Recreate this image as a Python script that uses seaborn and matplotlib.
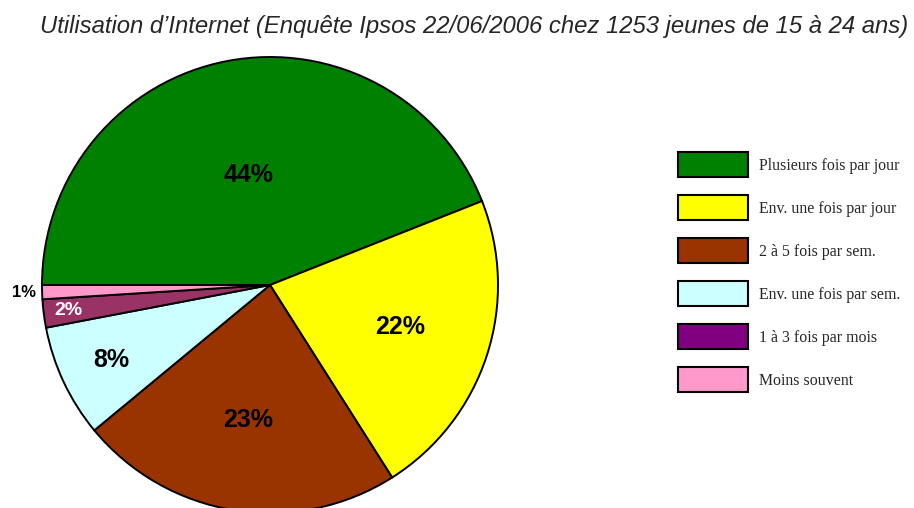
import numpy as np
import matplotlib.pyplot as plt
import matplotlib.patches as mpatches
import seaborn as sns

# --- données ---
categories = ['Plusieurs fois par jour', 'Env. une fois par jour', '2 à 5 fois par sem.',
              'Env. une fois par sem.', '1 à 3 fois par mois', 'Moins souvent']
values = [44, 22, 23, 8, 2, 1]
pie_colors = ['#008000', '#FFFF00', '#993300', '#CCFFFF', '#993366', '#FF99CC']
legend_colors = ['#008000', '#FFFF00', '#993300', '#CCFFFF', '#800080', '#FF99CC']
title = "Utilisation d\u2019Internet (Enquête Ipsos 22/06/2006 chez 1253 jeunes de 15 à 24 ans)"

sns.set_style("white")

fig = plt.figure(figsize=(9.14, 5.08), dpi=100)
W, H = 914, 508
cx, cy, r = 270, 285, 228
ax = fig.add_axes([(cx - r) / W, (H - cy - r) / H, 2 * r / W, 2 * r / H])

wedges, _ = ax.pie(values, colors=pie_colors, startangle=180, counterclock=False,
                   radius=1, wedgeprops={'edgecolor': 'black', 'linewidth': 1.4})
ax.set_xlim(-1, 1)
ax.set_ylim(-1, 1)
ax.set_aspect('equal')
ax.axis('off')

# étiquettes : distance radiale, taille, couleur
dists = [0.49, 0.6, 0.6, 0.77, 0.89, 1.08]
sizes = [18, 18, 18, 18, 14, 12]
txt_colors = ['black', 'black', 'black', 'black', 'white', 'black']
for w, v, d, s, c in zip(wedges, values, dists, sizes, txt_colors):
    ang = np.deg2rad((w.theta1 + w.theta2) / 2)
    ax.text(d * np.cos(ang), d * np.sin(ang), f"{v}%", ha='center', va='center',
            fontsize=s, fontweight='bold', color=c, family='Liberation Sans', clip_on=False)

fig.text(474 / W, 1 - 27 / H, title, ha='center', va='center', fontsize=17.2,
         fontstyle='italic', family='Liberation Sans')

handles = [mpatches.Patch(facecolor=c, edgecolor='black', linewidth=1.5) for c in legend_colors]
fig.legend(handles, categories, loc='upper left', bbox_to_anchor=(672 / W, 1 - 146 / H),
           frameon=False, prop={'family': 'Liberation Serif', 'size': 11.4},
           handlelength=4.4, handleheight=2.05, labelspacing=1.14, handletextpad=0.7,
           borderaxespad=0)

fig.savefig('out.png', dpi=100)
